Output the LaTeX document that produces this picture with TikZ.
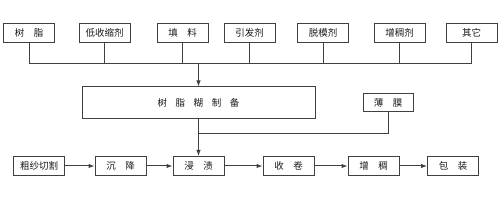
\documentclass[tikz,border=0pt]{standalone}
\usepackage{fontspec}
\newfontfamily\cjk{Noto Sans CJK SC}
\usetikzlibrary{arrows.meta,positioning}

\begin{document}
\begin{tikzpicture}[x=1pt,y=-1pt,>={Latex[length=6pt,width=4.5pt]},
  box/.style={draw=black!75,line width=1pt,minimum width=51pt,minimum height=19pt,
    inner sep=0pt,font=\cjk\fontsize{9.5}{11}\selectfont,text=black!90},
  link/.style={draw=black!75,line width=1pt}]
\useasboundingbox (0,0) rectangle (500,200);
% raw materials
\node[box] (resin)   at (29,33)    {树\quad 脂};
\node[box] (shrink)  at (104.5,33) {低收缩剂};
\node[box] (filler)  at (182.5,33) {填\quad 料};
\node[box] (init)    at (249.5,33) {引发剂};
\node[box] (release) at (323,33)   {脱模剂};
\node[box] (thick)   at (399.5,33) {增稠剂};
\node[box] (other)   at (471.5,33) {其它};
% paste and film
\node[box,minimum width=233pt,minimum height=32pt] (paste) at (198.5,103)
  {树\hspace{0.9em}脂\hspace{0.9em}糊\hspace{0.9em}制\hspace{0.9em}备};
\node[box,minimum width=50pt,minimum height=18pt] (film) at (388,103) {薄\quad 膜};
% production line
\node[box] (cut)    at (39,166)    {粗纱切割};
\node[box] (settle) at (120.5,166) {沉\quad 降};
\node[box] (dip)    at (198.5,166) {浸\quad 渍};
\node[box] (roll)   at (288.5,166) {收\quad 卷};
\node[box] (thk)    at (373.5,166) {增\quad 稠};
\node[box] (pack)   at (453,166)   {包\quad 装};
% connectors
\coordinate (busL) at (resin.south |- 0,64);
\coordinate (busR) at (other.south |- 0,64);
\draw[link] (busL) -- (busR);
\foreach \n in {resin,shrink,filler,init,release,thick,other}
  \draw[link] (\n.south) -- (\n.south |- busL);
\draw[link,->] (paste.north |- busL) -- (paste.north);
\draw[link,->] (paste.south) -- (dip.north);
\draw[link] (film.south) |- (paste.south |- 0,134);
\draw[link,->] (cut) -- (settle);
\draw[link,->] (settle) -- (dip);
\draw[link,->] (dip) -- (roll);
\draw[link,->] (roll) -- (thk);
\draw[link,->] (thk) -- (pack);
\end{tikzpicture}
\end{document}
